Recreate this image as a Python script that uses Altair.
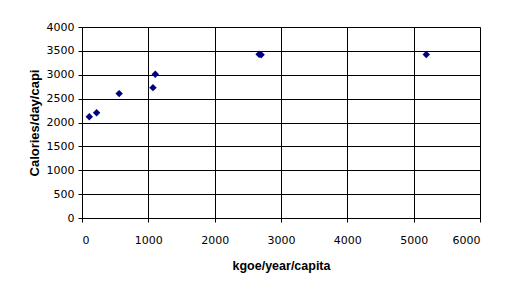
import altair as alt
import pandas as pd

energy = [110, 220, 560, 1070, 1105, 2670, 2700, 5190]
calories = [2120, 2205, 2605, 2730, 3010, 3430, 3420, 3425]

df = pd.DataFrame({"energy": energy, "calories": calories})

font = "Liberation Sans"

chart = alt.Chart(df).mark_point(
    shape="diamond", filled=True, color="#000080", size=55, opacity=1
).encode(
    x=alt.X("energy:Q", title="kgoe/year/capita",
            scale=alt.Scale(domain=[0, 6000], nice=False),
            axis=alt.Axis(values=[0, 1000, 2000, 3000, 4000, 5000, 6000],
                          format="d", labelPadding=12, titlePadding=14,
                          titleFontSize=12.5)),
    y=alt.Y("calories:Q", title="Calories/day/capi",
            scale=alt.Scale(domain=[0, 4000], nice=False),
            axis=alt.Axis(values=list(range(0, 4001, 500)),
                          format="d", labelPadding=4, titlePadding=5,
                          titleFontSize=13)),
).properties(
    width=398, height=191,
    autosize=alt.AutoSizeParams(type="none"),
    padding={"left": 82, "top": 27, "right": 32, "bottom": 73},
).configure_view(
    stroke="#808080", strokeWidth=1
).configure_axis(
    grid=True, gridColor="#000000", gridOpacity=1, gridWidth=1,
    domainColor="#000000", domainWidth=1,
    tickColor="#000000", tickSize=4, tickWidth=1,
    labelFont="DejaVu Sans", labelFontSize=11, labelColor="#000000",
    titleFont=font, titleFontWeight="bold", titleColor="#000000",
)

chart.save("out.html", embed_options={"renderer": "svg", "actions": False})
